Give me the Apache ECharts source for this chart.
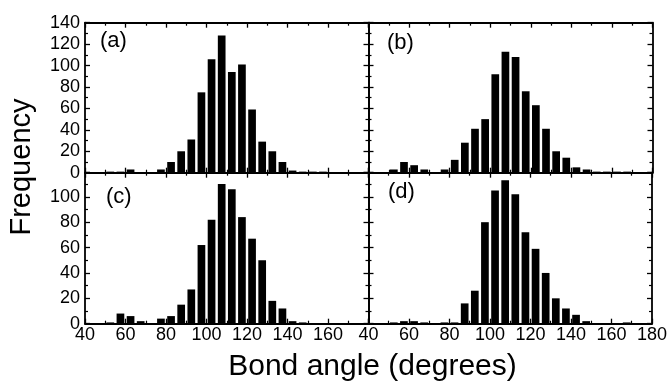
<!DOCTYPE html>
<html><head><meta charset="utf-8">
<script src="https://cdn.jsdelivr.net/npm/echarts@6/dist/echarts.min.js"></script>
<style>html,body{margin:0;padding:0;background:#fff}#c{width:670px;height:385px}</style>
</head><body><div id="c"></div><script>
// Bin centres (degrees)
const binCenters = [52.5,57.5,62.5,67.5,72.5,77.5,82.5,87.5,92.5,97.5,102.5,107.5,112.5,117.5,122.5,127.5,132.5,137.5,142.5,147.5,152.5,157.5,162.5,167.5];
// Frequencies per panel
const freqA = [1,1,3,0,0,3,10,20,31,75,106,128,94,101,59,29,20,10,2,1,1,1,0,0];
const freqB = [3,10,7,3,0,3,12,28,41,50,92,113,108,76,63,41,20,14,5,3,1,1,1,1];
const freqC = [1,8,6,2,0,4,6,15,27,62,82,110,106,84,67,50,18,12,2,1,0,0,0,0];
const freqD = [1,2,2,1,0,1,1,16,26,80,105,113,102,72,59,40,20,12,7,2,0,0,0,1];
const panelLabels = ['(a)','(b)','(c)','(d)'];
const xMin = 40, xMax = 180, xStep = 20;
const yTopMax = 140, yBottomMax = 119, yStep = 20;
const xTitle = 'Bond angle (degrees)';
const yTitle = 'Frequency';

const FONT = '"Liberation Sans", Arial, sans-serif';
const series = [freqA, freqB, freqC, freqD];
const grids = [
  {left: 85, top: 22.7, width: 283.5, height: 150},
  {left: 368.5, top: 22.7, width: 284, height: 150},
  {left: 85, top: 172.7, width: 283.5, height: 151},
  {left: 368.5, top: 172.7, width: 284, height: 151}
];
const lineStyle = {color: '#000', width: 1.8};
function xAx(i, pos, showLabel, hideMax) {
  return {type: 'value', gridIndex: i, position: pos, min: xMin, max: xMax, interval: xStep,
    axisLine: {show: true, onZero: false, lineStyle},
    axisTick: {show: true, inside: true, length: 5, lineStyle: {color: '#000', width: 1.3}},
    minorTick: {show: true, splitNumber: 2, length: 3, lineStyle: {color: '#000', width: 1.2}},
    splitLine: {show: false}, minorSplitLine: {show: false},
    axisLabel: {show: showLabel, margin: 2, color: '#000', fontSize: 18, fontFamily: FONT,
      showMaxLabel: !hideMax, showMinLabel: true}};
}
function yAx(i, pos, max, showLabel, hideMax) {
  return {type: 'value', gridIndex: i, position: pos, min: 0, max: max, interval: yStep,
    axisLine: {show: true, onZero: false, lineStyle},
    axisTick: {show: true, inside: true, length: 5, lineStyle: {color: '#000', width: 1.3}},
    minorTick: {show: true, splitNumber: 2, length: 3, lineStyle: {color: '#000', width: 1.2}},
    splitLine: {show: false}, minorSplitLine: {show: false},
    axisLabel: {show: showLabel, margin: 5, color: '#000', fontSize: 18, fontFamily: FONT,
      showMaxLabel: !hideMax, showMinLabel: true}};
}
const xAxes = [], yAxes = [], ser = [];
for (let i = 0; i < 4; i++) {
  const bottomRow = i >= 2, leftCol = i % 2 === 0;
  const yMax = bottomRow ? yBottomMax : yTopMax;
  xAxes.push(xAx(i, 'bottom', bottomRow, i === 2));
  xAxes.push(xAx(i, 'top', false, false));
  yAxes.push(yAx(i, 'left', yMax, leftCol, bottomRow));
  yAxes.push(yAx(i, 'right', yMax, false, false));
  ser.push({type: 'bar', xAxisIndex: 2 * i, yAxisIndex: 2 * i, barWidth: 7.7,
    itemStyle: {color: '#000'}, silent: true, animation: false,
    data: binCenters.map((c, k) => [c, series[i][k]])});
}
const labelPos = [[100, 30], [387, 32], [106, 186], [388, 181]];
const graphic = panelLabels.map((t, i) => ({type: 'text', left: labelPos[i][0], top: labelPos[i][1],
  style: {text: t, fontSize: 22, fontFamily: FONT, fill: '#000'}}));
graphic.push({type: 'text', x: 22, y: 167, rotation: Math.PI / 2,
  style: {text: yTitle, fontSize: 29, fontFamily: FONT, fill: '#000', align: 'center', verticalAlign: 'middle'}});
graphic.push({type: 'text', x: 372.5, y: 366.5,
  style: {text: xTitle, fontSize: 30, fontFamily: FONT, fill: '#000', align: 'center', verticalAlign: 'middle'}});

const chart = echarts.init(document.getElementById('c'), null, {renderer: 'canvas'});
chart.setOption({animation: false, backgroundColor: '#fff', grid: grids, xAxis: xAxes, yAxis: yAxes, series: ser, graphic});
</script></body></html>
